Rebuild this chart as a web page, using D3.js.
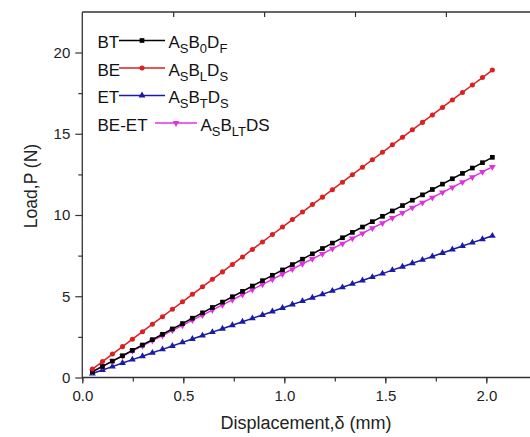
<!DOCTYPE html>
<html><head><meta charset="utf-8">
<script src="https://cdn.jsdelivr.net/npm/d3@7"></script>
<style>body{margin:0;background:#fff}svg{display:block}text{font-family:Arial,"Liberation Sans",sans-serif}</style>
</head><body><div id="chart"></div>
<script>
const displacement = [0.050,0.100,0.149,0.199,0.248,0.298,0.347,0.397,0.446,0.496,0.545,0.595,0.644,0.694,0.743,0.793,0.842,0.892,0.941,0.991,1.040,1.090,1.139,1.189,1.238,1.288,1.337,1.387,1.436,1.486,1.535,1.585,1.634,1.684,1.733,1.783,1.832,1.882,1.931,1.981,2.030];
const loadBT = [0.35,0.68,1.01,1.34,1.67,2.00,2.33,2.66,2.99,3.32,3.65,3.98,4.31,4.64,4.97,5.30,5.63,5.96,6.29,6.62,6.95,7.28,7.61,7.94,8.27,8.60,8.93,9.26,9.59,9.92,10.25,10.58,10.91,11.24,11.57,11.90,12.23,12.56,12.89,13.22,13.55];
const loadBE = [0.52,0.98,1.44,1.90,2.36,2.82,3.28,3.74,4.20,4.66,5.12,5.58,6.04,6.50,6.96,7.42,7.88,8.34,8.80,9.26,9.72,10.18,10.64,11.10,11.56,12.02,12.48,12.94,13.40,13.86,14.32,14.78,15.24,15.70,16.16,16.62,17.08,17.54,18.00,18.46,18.92];
const loadET = [0.25,0.46,0.67,0.89,1.10,1.31,1.52,1.73,1.94,2.16,2.37,2.58,2.79,3.00,3.22,3.43,3.64,3.85,4.06,4.28,4.49,4.70,4.91,5.12,5.33,5.55,5.76,5.97,6.18,6.39,6.61,6.82,7.03,7.24,7.45,7.66,7.88,8.09,8.30,8.51,8.72];
const loadBEET = [0.38,0.69,1.01,1.32,1.64,1.95,2.27,2.58,2.90,3.21,3.53,3.84,4.15,4.47,4.78,5.10,5.41,5.73,6.04,6.36,6.67,6.99,7.30,7.61,7.93,8.24,8.56,8.87,9.19,9.50,9.82,10.13,10.45,10.76,11.07,11.39,11.70,12.02,12.33,12.65,12.96];
const seriesNames = ["BT","BE","ET","BE-ET"];
const seriesLabels = [["A","S","B","0","D","F"],["A","S","B","L","D","S"],["A","S","B","T","D","S"],["A","S","B","LT","DS",""]];
const seriesColors = ["#000000","#dc1f1f","#1a1aa8","#e030e0"];
const seriesSymbols = ["square","circle","triangle","triangleDown"];
const xTicks = [0.0,0.5,1.0,1.5,2.0];
const yTicks = [0,5,10,15,20];

const W=530,H=437;
const x0=82.3, y0=377.5, yTop=12;
const x = d3.scaleLinear().domain([0,2.25]).range([x0, x0+202*2.25]);
const xTop = d3.scaleLinear().domain([0,2.5]).range([x0, x0+202*2.25]);
const y = d3.scaleLinear().domain([0,22.5]).range([y0, y0-16.25*22.5]);

const svg = d3.select("#chart").append("svg").attr("width",W).attr("height",H);
const axisColor="#333";
const FONT="Arial, 'Liberation Sans', sans-serif";

// bottom axis
const gx = svg.append("g").attr("transform",`translate(0,${y0})`);
gx.call(d3.axisBottom(x).tickValues(d3.range(0,2.26,0.25)).tickSize(4).tickFormat(""));
const gx2 = svg.append("g").attr("transform",`translate(0,${y0})`);
gx2.call(d3.axisBottom(x).tickValues(xTicks).tickSize(6).tickPadding(7).tickFormat(d3.format(".1f")));
gx2.selectAll("text").attr("font-size",15).attr("fill","#222").style("font-family",FONT);
svg.selectAll(".domain").remove();
svg.append("line").attr("x1",x0).attr("x2",W).attr("y1",y0).attr("y2",y0).attr("stroke",axisColor).attr("stroke-width",1.3);

// top axis (ticks inward)
const gt = svg.append("g").attr("transform",`translate(0,${yTop})`);
gt.call(d3.axisBottom(xTop).tickValues(d3.range(0.25,2.5,0.5)).tickSize(3).tickFormat(""));
gt.call(d3.axisBottom(xTop).tickValues([0.5,1.0,1.5,2.0]).tickSize(5).tickFormat(""));
gt.selectAll(".domain").remove();
svg.append("line").attr("x1",x0).attr("x2",W).attr("y1",yTop).attr("y2",yTop).attr("stroke",axisColor).attr("stroke-width",1.3);

// left axis
const gy = svg.append("g").attr("transform",`translate(${x0},0)`);
gy.call(d3.axisLeft(y).tickValues(d3.range(2.5,22.5,5)).tickSize(4).tickFormat(""));
const gy2 = svg.append("g").attr("transform",`translate(${x0},0)`);
gy2.call(d3.axisLeft(y).tickValues(yTicks).tickSize(7).tickPadding(5).tickFormat(d3.format("d")));
gy2.selectAll("text").attr("font-size",15).attr("fill","#222").style("font-family",FONT);
svg.selectAll("g .tick line").attr("stroke",axisColor).attr("stroke-width",1.2);
gy.selectAll(".domain").remove(); gy2.selectAll(".domain").remove();
svg.append("line").attr("x1",x0).attr("x2",x0).attr("y1",yTop).attr("y2",y0+0.6).attr("stroke",axisColor).attr("stroke-width",1.3);

// axis titles
svg.append("text").attr("x",306).attr("y",429).attr("text-anchor","middle").attr("font-size",18).attr("fill","#222")
  .text("Displacement,\u03B4 (mm)");
svg.append("text").attr("transform","translate(37,186) rotate(-90)").attr("text-anchor","middle").attr("font-size",17.5).attr("fill","#222")
  .text("Load,P (N)");

// series
const allLoads=[loadBT,loadBE,loadET,loadBEET];
const symType={square:d3.symbolSquare,circle:d3.symbolCircle,triangle:d3.symbolTriangle,triangleDown:d3.symbolTriangle};
const symSize={square:22,circle:20,triangle:20,triangleDown:20};
const line=d3.line().x(d=>x(d[0])).y(d=>y(d[1]));
const order=[2,3,0,1];
order.forEach(i=>{
  const pts=displacement.map((d,j)=>[d,allLoads[i][j]]);
  const g=svg.append("g");
  g.append("path").attr("d",line(pts)).attr("fill","none").attr("stroke",seriesColors[i]).attr("stroke-width",1.5);
  const s=seriesSymbols[i];
  g.selectAll("path.m").data(pts).join("path").attr("class","m")
    .attr("d",d3.symbol(symType[s],symSize[s]))
    .attr("transform",d=>`translate(${x(d[0])},${y(d[1])})${s==="triangleDown"?" rotate(180)":""}`)
    .attr("fill",seriesColors[i]);
});

// legend
const baselines=[48,75.5,103,130.5];
const lineEnds=[[119,165],[119,165],[119,165],[155,197]];
seriesNames.forEach((n,i)=>{
  const g=svg.append("g");
  const b=baselines[i];
  g.append("text").attr("x",97.5).attr("y",b).attr("font-size",17).attr("fill","#111").text(n);
  const [a,e]=lineEnds[i];
  const ly=b-7.5;
  g.append("line").attr("x1",a).attr("x2",e).attr("y1",ly).attr("y2",ly).attr("stroke",seriesColors[i]).attr("stroke-width",1.5);
  const s=seriesSymbols[i];
  g.append("path").attr("d",d3.symbol(symType[s],symSize[s])())
    .attr("transform",`translate(${(a+e)/2},${ly})${s==="triangleDown"?" rotate(180)":""}`).attr("fill",seriesColors[i]);
  const t=g.append("text").attr("x",e+3.5).attr("y",b).attr("font-size",17).attr("fill","#111");
  const parts=seriesLabels[i];
  for(let k=0;k<parts.length;k+=2){
    t.append("tspan").attr("font-size",17).attr("dy",k===0?0:-5).text(parts[k]);
    if(parts[k+1]) t.append("tspan").attr("font-size",13).attr("dy",5).text(parts[k+1]);
    else t.append("tspan").attr("dy",5).text("");
  }
});
</script></body></html>
